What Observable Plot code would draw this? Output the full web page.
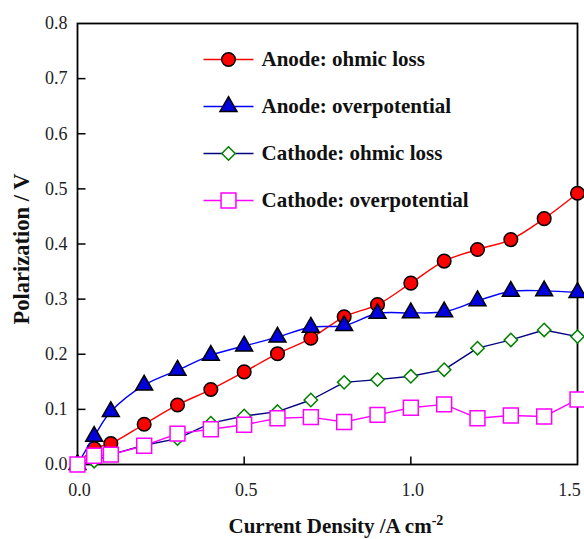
<!DOCTYPE html>
<html>
<head>
<meta charset="utf-8">
<script src="https://cdn.jsdelivr.net/npm/d3@7"></script>
<script src="https://cdn.jsdelivr.net/npm/@observablehq/plot@0.6"></script>
<style>
  body { margin: 0; background: #fff; }
</style>
</head>
<body>
<div id="chart"></div>
<script>
// ---- data ----
const currentDensity = [0, 0.05, 0.1, 0.2, 0.3, 0.4, 0.5, 0.6, 0.7, 0.8, 0.9, 1.0, 1.1, 1.2, 1.3, 1.4, 1.5];
const anodeOhmic     = [0, 0.029, 0.038, 0.073, 0.108, 0.136, 0.168, 0.201, 0.229, 0.268, 0.290, 0.329, 0.369, 0.390, 0.408, 0.446, 0.492];
const anodeOver      = [0, 0.051, 0.096, 0.144, 0.171, 0.198, 0.215, 0.231, 0.249, 0.252, 0.274, 0.275, 0.277, 0.297, 0.314, 0.315, 0.312];
const cathodeOhmic   = [0, 0.006, 0.018, 0.035, 0.047, 0.075, 0.088, 0.096, 0.117, 0.149, 0.154, 0.160, 0.172, 0.211, 0.226, 0.244, 0.232];
const cathodeOver    = [0, 0.016, 0.018, 0.034, 0.056, 0.064, 0.072, 0.084, 0.086, 0.077, 0.090, 0.103, 0.109, 0.084, 0.089, 0.087, 0.118];

const seriesNames  = ["Anode: ohmic loss", "Anode: overpotential", "Cathode: ohmic loss", "Cathode: overpotential"];
const seriesValues = [anodeOhmic, anodeOver, cathodeOhmic, cathodeOver];
const lineColors   = ["#ff0000", "#0000ff", "#000080", "#ff00ff"];
const markSymbols  = ["circle", "triangle", "diamond2", "square"];
const markFills    = ["#ff0000", "#0000dd", "#ffffff", "#ffffff"];
const markStrokes  = ["#000000", "#000000", "#008000", "#ff00ff"];
const markR        = [6.8, 6.3, 6.0, 8.4];
const lineCurves   = ["catmull-rom", "catmull-rom", "linear", "linear"];

const yTicks = [0, 0.1, 0.2, 0.3, 0.4, 0.5, 0.6, 0.7, 0.8];
const xTicks = [0, 0.5, 1.0];
const xTickLast = [1.5];
const yInnerTicks = [0.1, 0.2, 0.3, 0.4, 0.5, 0.6, 0.7];
const xInnerTicks = [0.5, 1.0];

const xTitle = "Current Density /A cm";
const xTitleSup = "-2";
const yTitle = "Polarization / V";

// ---- helpers (styling only) ----
const hTick = {draw(c) { c.moveTo(-4, 0); c.lineTo(4, 0); }};
const vTick = {draw(c) { c.moveTo(0, -4); c.lineTo(0, 4); }};
const legendLine = {draw(c) { c.moveTo(-25, 0); c.lineTo(25, 0); }};

const rows = seriesNames.map((name, i) =>
  currentDensity.map((x, j) => ({series: name, x, y: seriesValues[i][j]})));

const tickText = {tickSize: 0, tickFormat: d3.format(".1f"), fontSize: 18, fill: "#222", label: null};

const marks = [
  Plot.frame({stroke: "#000", strokeWidth: 1.8}),
  Plot.axisY(yTicks, {...tickText, tickPadding: 10}),
  Plot.axisX(xTicks, {...tickText, tickPadding: 19, dx: 2}),
  Plot.axisX(xTickLast, {...tickText, tickPadding: 19, dx: -8}),
  Plot.dot(yInnerTicks, {y: d => d, frameAnchor: "left", dx: 4, symbol: hTick, stroke: "#000", strokeWidth: 1.5}),
  Plot.dot(xInnerTicks, {x: d => d, frameAnchor: "bottom", dy: -4, symbol: vTick, stroke: "#000", strokeWidth: 1.5}),
];

rows.forEach((data, i) => {
  marks.push(Plot.line(data, {x: "x", y: "y", stroke: lineColors[i], strokeWidth: 1.4, curve: lineCurves[i]}));
  marks.push(Plot.dot(data, {x: "x", y: "y", symbol: markSymbols[i], r: markR[i], fill: markFills[i], stroke: markStrokes[i], strokeWidth: 1.5}));
});

// legend (inside the plot)
seriesNames.forEach((name, i) => {
  const dy = 36 + 47 * i;
  marks.push(Plot.dot([name], {frameAnchor: "top-left", dx: 151, dy, symbol: legendLine, stroke: lineColors[i], strokeWidth: 1.4}));
  marks.push(Plot.dot([name], {frameAnchor: "top-left", dx: 151, dy, symbol: markSymbols[i], r: markR[i], fill: markFills[i], stroke: markStrokes[i], strokeWidth: 1.5}));
  marks.push(Plot.text([name], {frameAnchor: "top-left", dx: 184, dy, text: d => d, textAnchor: "start", lineAnchor: "middle", fontSize: 21, fontWeight: "bold", fill: "#111"}));
});

// axis titles
marks.push(Plot.text([xTitle], {frameAnchor: "bottom-left", dx: 151, dy: 62, text: d => d, textAnchor: "start", lineAnchor: "middle", fontSize: 21, fontWeight: "bold", fill: "#111"}));
marks.push(Plot.text([yTitle], {frameAnchor: "left", dx: -56, dy: 5, rotate: -90, text: d => d, textAnchor: "middle", lineAnchor: "middle", fontSize: 22.5, fontWeight: "bold", fill: "#111"}));

const chart = Plot.plot({
  width: 584,
  height: 539,
  marginLeft: 77,
  marginRight: 7,
  marginTop: 23,
  marginBottom: 75,
  x: {domain: [0, 1.5], axis: null},
  y: {domain: [0, 0.8], axis: null},
  style: {background: "#fff", overflow: "visible", fontFamily: "'Liberation Serif', 'Times New Roman', serif"},
  marks
});

// superscript on the x title
chart.querySelectorAll("text").forEach(t => {
  if (t.textContent === xTitle) {
    const sup = document.createElementNS("http://www.w3.org/2000/svg", "tspan");
    sup.setAttribute("dy", "-0.6em");
    sup.setAttribute("font-size", "14");
    sup.textContent = xTitleSup;
    t.appendChild(sup);
  }
});

document.getElementById("chart").appendChild(chart);
</script>
</body>
</html>
